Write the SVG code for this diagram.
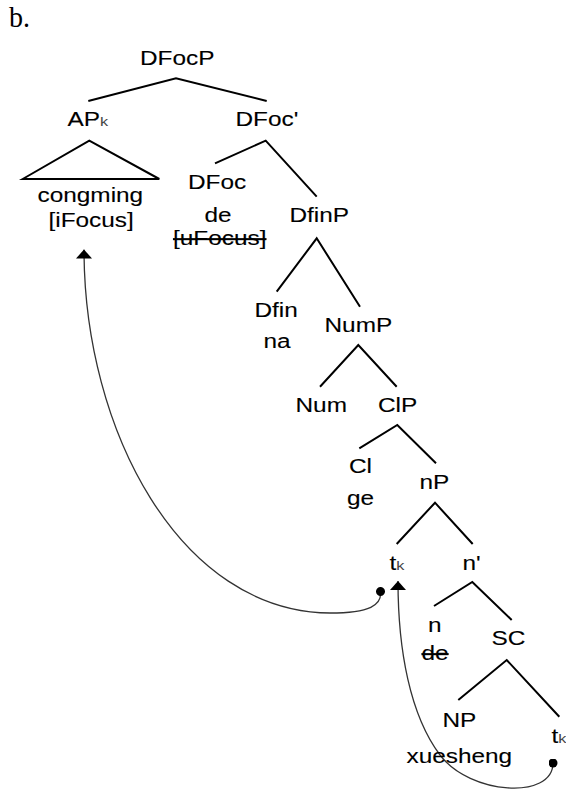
<svg xmlns="http://www.w3.org/2000/svg" width="566" height="794" viewBox="0 0 566 794">
<style>
  .t { font-family: "Liberation Sans", Arial, sans-serif; font-size: 19.5px; fill: #000; stroke: #000; stroke-width: 0.1; }
  .sub { font-size: 13px; fill: #444; stroke: none; }
  .strike { text-decoration: line-through; }
  .edge { fill: none; stroke: #000; stroke-width: 2; stroke-linejoin: miter; }
  .move { fill: none; stroke: #333; stroke-width: 1.3; marker-start: url(#dot); marker-end: url(#arrow); }
  .lbl { font-family: "Liberation Serif", "Times New Roman", serif; font-size: 30px; fill: #000; }
</style>
<defs>
  <marker id="arrow" viewBox="0 0 10 10" refX="10" refY="5" markerUnits="userSpaceOnUse" markerWidth="9" markerHeight="16" orient="auto" preserveAspectRatio="none">
    <path d="M0,0 L10,5 L0,10 Z" fill="#000"/>
  </marker>
  <marker id="dot" viewBox="0 0 10 10" refX="5" refY="5" markerUnits="userSpaceOnUse" markerWidth="9" markerHeight="9" orient="auto">
    <circle cx="5" cy="5" r="5" fill="#000"/>
  </marker>
</defs>
<rect width="566" height="794" fill="#fff"/>

<text class="lbl" x="9" y="26.5" textLength="21" lengthAdjust="spacingAndGlyphs">b.</text>

<g id="connectors">
  <path class="edge" d="M88.3,101 L176,78.3 L266.7,101"/>
  <path class="edge" d="M22.7,179 L89.3,140.7 L159.3,179 Z"/>
  <path class="edge" d="M215,163.3 L265.7,140.7 L316.7,196.7"/>
  <path class="edge" d="M276.7,291.7 L316.7,238.3 L360,306.7"/>
  <path class="edge" d="M320,386.7 L358.3,345 L396.7,386.7"/>
  <path class="edge" d="M359.3,448.3 L397.3,425 L436,463.3"/>
  <path class="edge" d="M396.7,544 L435,502.7 L472.7,544"/>
  <path class="edge" d="M434,606 L472.3,582 L511.7,620"/>
  <path class="edge" d="M458.3,700 L506.7,660 L559.3,716.7"/>
  <path class="move" d="M380.5,591.5 C382,605 370,613 330,613 C180,612 84,430 84,249.5"/>
  <path class="move" d="M553,763 C553,800 470,795 440,755 C410,715 398,650 398,581"/>
</g>

<g id="n-DFocP"><text class="t" transform="translate(140,64.5) scale(1.25,1)">DFocP</text></g>
<g id="n-APk"><text class="t" transform="translate(67.5,126) scale(1.25,1)">AP<tspan class="sub">k</tspan></text></g>
<g id="n-DFocbar"><text class="t" transform="translate(235.5,126) scale(1.25,1)">DFoc'</text></g>
<g id="n-congming">
  <text class="t" transform="translate(37.5,202) scale(1.25,1)">congming</text>
  <text class="t" transform="translate(48.5,226.5) scale(1.25,1)">[iFocus]</text>
</g>
<g id="n-DFoc">
  <text class="t" transform="translate(188,188.5) scale(1.25,1)">DFoc</text>
  <text class="t" transform="translate(204.5,221.5) scale(1.25,1)">de</text>
  <text class="t strike" transform="translate(173,245) scale(1.25,1)">[uFocus]</text>
</g>
<g id="n-DfinP"><text class="t" transform="translate(289.5,221.7) scale(1.25,1)">DfinP</text></g>
<g id="n-Dfin">
  <text class="t" transform="translate(254.5,316.5) scale(1.25,1)">Dfin</text>
  <text class="t" transform="translate(263.5,348) scale(1.25,1)">na</text>
</g>
<g id="n-NumP"><text class="t" transform="translate(324.5,331.5) scale(1.25,1)">NumP</text></g>
<g id="n-Num"><text class="t" transform="translate(295.5,411.5) scale(1.25,1)">Num</text></g>
<g id="n-ClP"><text class="t" transform="translate(378,411.5) scale(1.25,1)">ClP</text></g>
<g id="n-Cl">
  <text class="t" transform="translate(349,473.3) scale(1.25,1)">Cl</text>
  <text class="t" transform="translate(347,505) scale(1.25,1)">ge</text>
</g>
<g id="n-nP"><text class="t" transform="translate(419.5,489.3) scale(1.25,1)">nP</text></g>
<g id="n-tk1"><text class="t" transform="translate(389.5,570) scale(1.25,1)">t<tspan class="sub">k</tspan></text></g>
<g id="n-nbar"><text class="t" transform="translate(462.5,570) scale(1.25,1)">n'</text></g>
<g id="n-n">
  <text class="t" transform="translate(428,631.7) scale(1.25,1)">n</text>
  <text class="t strike" transform="translate(421.5,660) scale(1.25,1)">de</text>
</g>
<g id="n-SC"><text class="t" transform="translate(491.5,645) scale(1.25,1)">SC</text></g>
<g id="n-NP">
  <text class="t" transform="translate(442.5,726.5) scale(1.25,1)">NP</text>
  <text class="t" transform="translate(406.5,763) scale(1.25,1)">xuesheng</text>
</g>
<g id="n-tk2"><text class="t" transform="translate(551.5,742.5) scale(1.25,1)">t<tspan class="sub">k</tspan></text></g>
</svg>
